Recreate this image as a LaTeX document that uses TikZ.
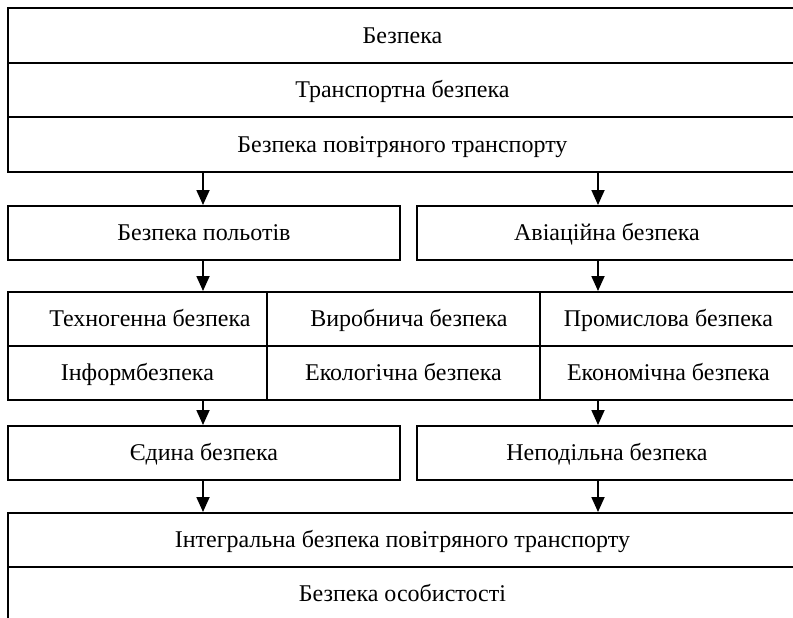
\documentclass[tikz,border=0pt]{standalone}
\usepackage{fontspec}
\setmainfont{Liberation Serif}
\usetikzlibrary{arrows.meta}
\begin{document}
\begin{tikzpicture}[x=1pt,y=-1pt,
  box/.style={draw, line width=1.8pt, inner sep=0pt, anchor=north west,
    font=\fontsize{24}{28}\selectfont, text height=16pt, text depth=0pt},
  arr/.style={line width=1.8pt, -{Triangle[length=15pt,width=13pt]}}
]
\useasboundingbox (0,0) rectangle (793,618);
\clip (0,0) rectangle (793,618);
\coordinate (L) at (203,0);
\coordinate (R) at (598,0);
% top block
\node[box, minimum width=789pt, minimum height=55pt] (t1) at (7,7) {Безпека};
\node[box, minimum width=789pt, minimum height=54pt] (t2) at (7,62) {Транспортна безпека};
\node[box, minimum width=789pt, minimum height=55pt] (t3) at (7,116) {Безпека повітряного транспорту};
% second row
\node[box, minimum width=392pt, minimum height=54pt] (fl) at (7,205) {Безпека польотів};
\node[box, minimum width=380pt, minimum height=54pt] (av) at (416,205) {Авіаційна безпека};
% grid
\node[box, minimum width=259pt, minimum height=54pt] (g11) at (7,291) {\hspace*{25pt}Техногенна безпека};
\node[box, minimum width=273pt, minimum height=54pt] (g12) at (266,291) {\hspace*{11pt}Виробнича безпека};
\node[box, minimum width=257pt, minimum height=54pt] (g13) at (539,291) {Промислова безпека};
\node[box, minimum width=259pt, minimum height=54pt] (g21) at (7,345) {Інформбезпека};
\node[box, minimum width=273pt, minimum height=54pt] (g22) at (266,345) {Екологічна безпека};
\node[box, minimum width=257pt, minimum height=54pt] (g23) at (539,345) {Економічна безпека};
% fourth row
\node[box, minimum width=392pt, minimum height=54pt] (ed) at (7,425) {Єдина безпека};
\node[box, minimum width=380pt, minimum height=54pt] (ne) at (416,425) {Неподільна безпека};
% bottom block
\node[box, minimum width=789pt, minimum height=54pt] (b1) at (7,512) {Інтегральна безпека повітряного транспорту};
\node[box, minimum width=789pt, minimum height=54pt] (b2) at (7,566) {Безпека особистості};
% arrows
\draw[arr] (t3.south -| L) -- (fl.north -| L);
\draw[arr] (t3.south -| R) -- (av.north -| R);
\draw[arr] (fl.south -| L) -- (g11.north -| L);
\draw[arr] (av.south -| R) -- (g13.north -| R);
\draw[arr] (g21.south -| L) -- (ed.north -| L);
\draw[arr] (g23.south -| R) -- (ne.north -| R);
\draw[arr] (ed.south -| L) -- (b1.north -| L);
\draw[arr] (ne.south -| R) -- (b1.north -| R);
\end{tikzpicture}
\end{document}
